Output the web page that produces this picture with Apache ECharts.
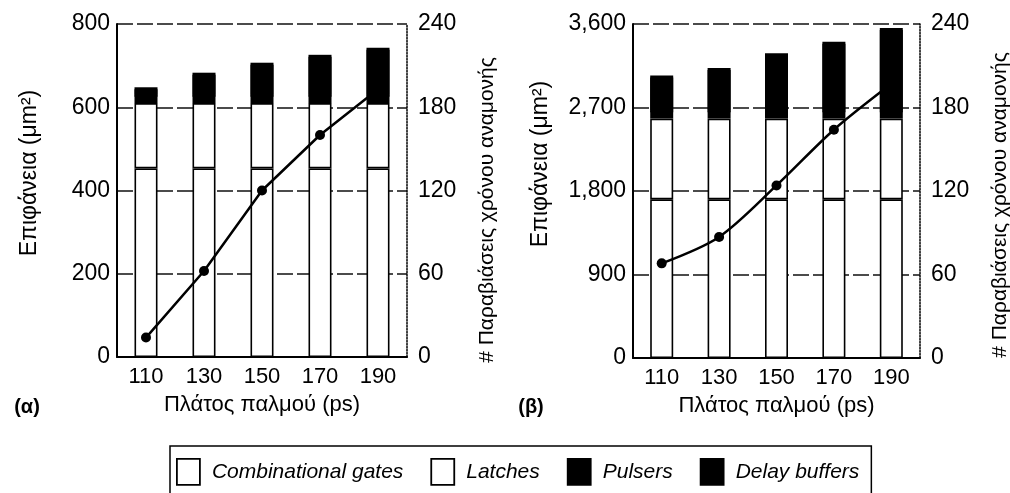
<!DOCTYPE html>
<html><head><meta charset="utf-8">
<script src="https://cdn.jsdelivr.net/npm/echarts@6/dist/echarts.min.js"></script>
<style>html,body{margin:0;padding:0;background:#fff}#c{width:1010px;height:493px}</style>
</head><body><div id="c"></div>
<script>
const categories = ['110', '130', '150', '170', '190'];
// Chart (α)
const combA   = [453, 453, 453, 453, 453];
const latchA  = [157, 157, 157, 157, 157];
const pulserA = [20, 20, 20, 20, 20];
const delayA  = [18, 53, 77, 96, 113];
const violA   = [14, 62, 120, 160, 193];
// Chart (β)
const combB   = [1710, 1710, 1710, 1710, 1710];
const latchB  = [870, 870, 870, 870, 870];
const pulserB = [90, 90, 90, 90, 90];
const delayB  = [375, 455, 615, 740, 888];
const violB   = [68, 87, 124, 164, 197];
// Tick labels
const areaTicksA = [0, 200, 400, 600, 800];
const areaTicksB = [0, 900, 1800, 2700, 3600];
const violTicks  = [0, 60, 120, 180, 240];

const seriesNames = ['Combinational gates', 'Latches', 'Pulsers', 'Delay buffers'];
const FONT = "'Liberation Sans', Arial, sans-serif";
const fmt = v => String(v).replace(/\B(?=(\d{3})+(?!\d))/g, ',');

function yLeft(gi, ticks) {
  return {
    type: 'value', gridIndex: gi, position: 'left',
    min: ticks[0], max: ticks[ticks.length - 1], interval: ticks[1] - ticks[0],
    axisLine: { show: true, lineStyle: { color: '#000', width: 2 } },
    axisTick: { show: false },
    axisLabel: { color: '#000', fontSize: 23, fontFamily: FONT, margin: 7, formatter: fmt },
    splitLine: { show: true, lineStyle: { color: '#111', width: 1.5, type: [16, 4] } }
  };
}
function yRight(gi, ticks) {
  return {
    type: 'value', gridIndex: gi, position: 'right',
    min: ticks[0], max: ticks[ticks.length - 1], interval: ticks[1] - ticks[0],
    axisLine: { show: true, lineStyle: { color: '#000', width: 1.5, type: 'dotted' } },
    axisTick: { show: false },
    axisLabel: { color: '#000', fontSize: 23, fontFamily: FONT, margin: 11 },
    splitLine: { show: false }
  };
}
function xAx(gi) {
  return {
    type: 'category', gridIndex: gi, data: categories,
    name: 'Πλάτος παλμού (ps)', nameLocation: 'middle', nameGap: 37,
    nameTextStyle: { color: '#000', fontSize: 22, fontFamily: FONT },
    axisLine: { show: true, lineStyle: { color: '#000', width: 2 } },
    axisTick: { show: false },
    axisLabel: { color: '#000', fontSize: 22, fontFamily: FONT, margin: 9 }
  };
}
function bars(gi, arrs, stack) {
  const fills = ['#fff', '#fff', '#000', '#000'];
  const bw = [1.6, 1.6, 0, 0];
  return arrs.map((d, i) => {
    const style = { color: fills[i], borderColor: '#000', borderWidth: bw[i] };
    if (i === 3) { style.shadowColor = '#000'; style.shadowBlur = 0; style.shadowOffsetY = 2; }
    return {
      type: 'bar', name: seriesNames[i], xAxisIndex: gi, yAxisIndex: gi * 2,
      stack: stack, data: d, barWidth: 23, itemStyle: style
    };
  });
}
function line(gi, d, smooth) {
  return {
    type: 'line', name: 'Παραβιάσεις χρόνου αναμονής', xAxisIndex: gi, yAxisIndex: gi * 2 + 1,
    data: d, smooth: smooth, symbol: 'circle', symbolSize: 10, z: 5,
    lineStyle: { color: '#000', width: 2.5 }, itemStyle: { color: '#000' }
  };
}
function vText(x, y, text, size) {
  return { type: 'text', x: x, y: y, rotation: Math.PI / 2,
    style: { text: text, fill: '#000', font: size + "px " + FONT, align: 'center', verticalAlign: 'middle' } };
}

const chart = echarts.init(document.getElementById('c'), null, { renderer: 'canvas' });
chart.setOption({
  backgroundColor: '#fff',
  animation: false,
  grid: [
    { left: 117, top: 24, width: 290, height: 333 },
    { left: 633, top: 24, width: 287, height: 334 }
  ],
  xAxis: [xAx(0), xAx(1)],
  yAxis: [yLeft(0, areaTicksA), yRight(0, violTicks), yLeft(1, areaTicksB), yRight(1, violTicks)],
  legend: {
    data: seriesNames, left: 170, top: 446, orient: 'horizontal',
    icon: 'rect', itemWidth: 23, itemHeight: 26, itemGap: 27,
    padding: [12, 12, 12, 6], borderColor: '#000', borderWidth: 1.5,
    itemStyle: { borderColor: '#000', borderWidth: 1.8, shadowOffsetY: 0 },
    textStyle: { color: '#000', fontSize: 21, fontStyle: 'italic', fontFamily: FONT, padding: [0, 0, 0, 7] },
    selectedMode: false
  },
  graphic: [
    vText(30, 173, 'Επιφάνεια (μm²)', 23),
    vText(487, 210, '# Παραβιάσεις χρόνου αναμονής', 21),
    vText(541, 164, 'Επιφάνεια (μm²)', 23),
    vText(1000, 205, '# Παραβιάσεις χρόνου αναμονής', 21),
    { type: 'text', x: 27, y: 407, style: { text: '(α)', fill: '#000', font: "bold 20px " + FONT, align: 'center', verticalAlign: 'middle' } },
    { type: 'text', x: 531, y: 407, style: { text: '(β)', fill: '#000', font: "bold 20px " + FONT, align: 'center', verticalAlign: 'middle' } }
  ],
  series: [].concat(
    bars(0, [combA, latchA, pulserA, delayA], 'a'),
    [line(0, violA, false)],
    bars(1, [combB, latchB, pulserB, delayB], 'b'),
    [line(1, violB, 0.3)]
  )
});
</script></body></html>
